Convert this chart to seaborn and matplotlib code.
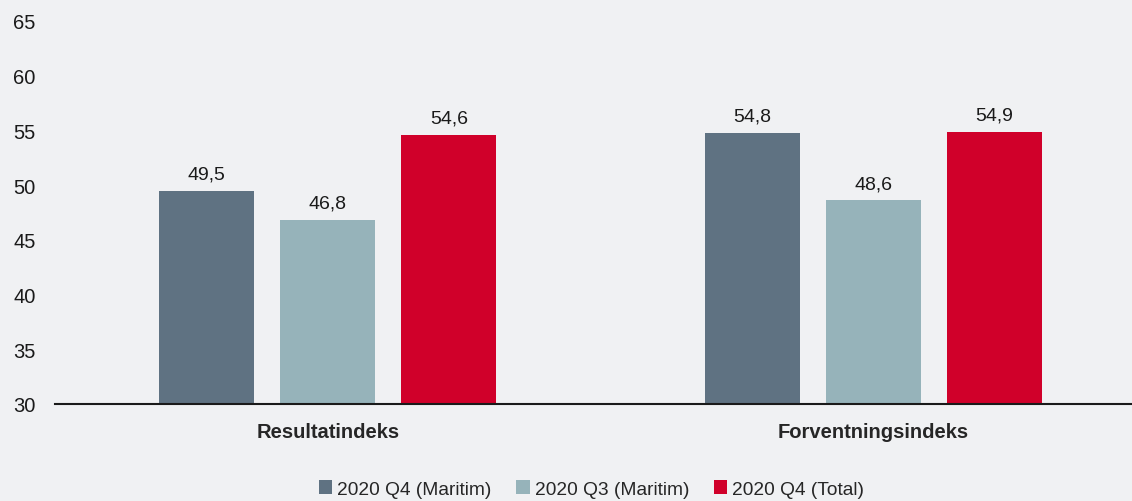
import pandas as pd
import matplotlib.pyplot as plt
import seaborn as sns

# data
categories = ["Resultatindeks", "Forventningsindeks"]
series = ["2020 Q4 (Maritim)", "2020 Q3 (Maritim)", "2020 Q4 (Total)"]
q4_maritim = [49.5, 54.8]
q3_maritim = [46.8, 48.6]
q4_total = [54.6, 54.9]
colors = ["#5f7282", "#96b3ba", "#d0002a"]
bg = "#f0f1f3"

df = pd.DataFrame({"kategori": categories,
                   series[0]: q4_maritim,
                   series[1]: q3_maritim,
                   series[2]: q4_total})
df = df.melt(id_vars="kategori", var_name="serie", value_name="verdi")

sns.set_style("white")
plt.rcParams['font.family'] = ['Liberation Sans', 'DejaVu Sans']

f = plt.figure(figsize=(11.32, 5.02), dpi=100, facecolor=bg)
ax = f.add_axes([55/1132, 1-405/502, 1077/1132, (405-22)/502])
ax.set_facecolor(bg)

sns.barplot(data=df, x="kategori", y="verdi", hue="serie", hue_order=series,
            palette=colors, width=0.665, gap=0.215, ax=ax, legend=True,
            saturation=1, linewidth=0)

for cont in ax.containers:
    ax.bar_label(cont, labels=[f"{v:.1f}".replace(".", ",") for v in cont.datavalues],
                 padding=6, fontsize=14, color="#1a1a1a")

ax.set_ylim(30, 65)
ax.set_xlim(-0.5, 1.474)
ax.set_yticks(range(30, 66, 5))
ax.set_xlabel("")
ax.set_ylabel("")
ax.tick_params(axis="y", length=0, pad=14, labelsize=14.5, labelcolor="#1a1a1a")
ax.tick_params(axis="x", length=0, pad=13, labelsize=14.5)
for lbl in ax.get_xticklabels():
    lbl.set_fontweight("bold")
for s in ["top", "right", "left"]:
    ax.spines[s].set_visible(False)
ax.spines["bottom"].set_color("#1a1a1a")
ax.spines["bottom"].set_linewidth(1.5)

handles, labels = ax.get_legend_handles_labels()
ax.legend_.remove()
f.legend(handles, labels, loc="lower center", bbox_to_anchor=(0.5225, -0.028), ncol=3,
         frameon=False, fontsize=13.8, handlelength=0.7, handleheight=0.7,
         handletextpad=0.25, columnspacing=1.3)

f.savefig("out.png", dpi=100, facecolor=bg)
plt.close("all")
